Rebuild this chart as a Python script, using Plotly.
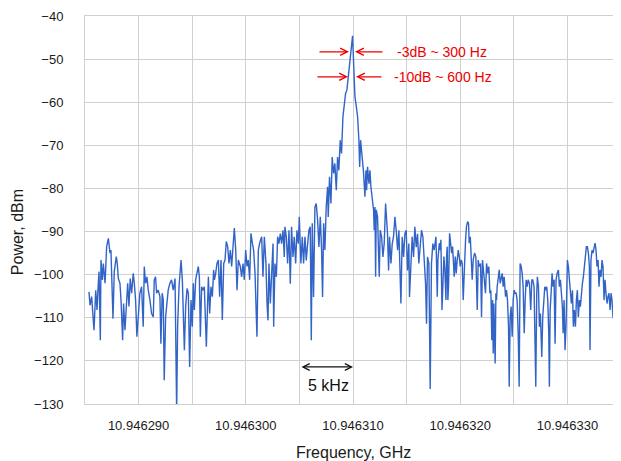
import plotly.graph_objects as go

# ---- data ----
# frequency axis origin (left edge of the plot), GHz
base_ghz = 10.946285

# offsets from base_ghz in kHz, and measured power in dBm, by section of the sweep
offset_khz_a = [0.37, 0.47, 0.62, 0.84, 1.00, 1.12, 1.24, 1.31, 1.43, 1.49,
                1.62, 1.71, 1.87, 2.02, 2.18, 2.33, 2.42, 2.49, 2.61, 2.73,
                2.92, 3.01, 3.11, 3.26, 3.36, 3.51, 3.60, 3.73, 3.85, 3.98,
                4.10, 4.22, 4.35, 4.50, 4.60, 4.72, 4.84, 4.97, 5.12, 5.28,
                5.43, 5.53, 5.65, 5.78, 5.90, 6.06, 6.21, 6.37, 6.46, 6.58,
                6.68, 6.83, 6.99, 7.08, 7.20, 7.30, 7.39, 7.52, 7.64, 7.76,
                7.92, 8.07, 8.23]
power_dbm_a = [-104.0, -107.1, -105.1, -112.9, -103.6, -108.2, -102.0, -99.3, -115.2, -96.6,
               -101.2, -97.4, -102.0, -93.5, -91.6, -95.0, -94.3, -101.2, -110.2, -99.3,
               -95.8, -97.4, -100.9, -102.0, -105.9, -115.2, -106.7, -112.9, -105.9, -102.0,
               -107.4, -100.9, -104.3, -99.7, -102.0, -105.9, -114.4, -108.2, -104.3, -102.8,
               -112.1, -98.1, -102.0, -100.5, -103.6, -105.9, -109.0, -109.8, -101.2, -100.5,
               -104.3, -103.6, -105.1, -116.0, -104.3, -105.9, -124.5, -109.8, -105.9, -103.6,
               -102.0, -101.2, -103.6]

offset_khz_b = [8.40, 8.55, 8.64, 8.77, 8.96, 9.08, 9.27, 9.39, 9.52, 9.64,
                9.76, 9.89, 10.01, 10.10, 10.20, 10.32, 10.45, 10.57, 10.67, 10.76,
                10.88, 11.01, 11.13, 11.32, 11.51, 11.63, 11.75, 11.88, 12.00, 12.07,
                12.19, 12.31, 12.44, 12.56, 12.69, 12.81, 12.94, 13.06, 13.18, 13.31,
                13.43, 13.56, 13.68, 13.81, 13.93, 14.06, 14.18, 14.30, 14.49, 14.61,
                14.74, 14.86, 14.99, 15.11, 15.23, 15.36, 15.48, 15.61, 15.73, 15.86,
                16.04, 16.17, 16.29, 16.48, 16.60, 16.73]
power_dbm_b = [-100.9, -132.0, -112.1, -102.8, -96.6, -101.2, -117.5, -107.4, -103.2, -104.3,
               -121.4, -105.9, -112.1, -102.0, -108.2, -101.2, -99.7, -98.1, -100.5, -114.4,
               -102.8, -103.6, -102.8, -116.7, -100.5, -109.0, -102.8, -105.1, -98.9, -101.2,
               -99.7, -97.4, -96.6, -105.1, -96.6, -110.5, -97.4, -96.6, -92.3, -93.5,
               -97.4, -94.3, -98.1, -91.9, -89.2, -94.3, -103.6, -96.6, -98.1, -100.5,
               -97.4, -101.2, -94.3, -98.1, -96.6, -101.2, -90.4, -92.7, -94.3, -99.7,
               -114.4, -94.3, -92.7, -91.2, -100.5, -91.2]

offset_khz_c = [16.88, 16.98, 17.07, 17.16, 17.29, 17.41, 17.54, 17.60, 17.72, 17.85,
                17.97, 18.09, 18.22, 18.34, 18.47, 18.59, 18.65, 18.78, 18.90, 19.03,
                19.15, 19.27, 19.40, 19.52, 19.65, 19.77, 19.90, 19.99, 20.08, 20.14,
                20.27, 20.39, 20.52, 20.64, 20.77, 20.89, 21.01, 21.11, 21.20, 21.32,
                21.45, 21.57, 21.70, 21.82, 21.95, 22.07, 22.16, 22.26, 22.38, 22.50,
                22.63, 22.69, 22.81, 22.94, 23.06, 23.19, 23.31, 23.44, 23.56, 23.68,
                23.81, 23.93, 24.06, 24.18, 24.31, 24.43, 24.55, 24.68, 24.77, 24.86,
                24.96]
power_dbm_c = [-97.4, -106.7, -110.6, -97.4, -106.7, -99.8, -92.8, -112.1, -97.4, -100.5,
               -91.2, -92.8, -90.5, -92.8, -89.7, -95.9, -88.9, -91.2, -97.4, -89.7,
               -102.1, -88.9, -95.9, -91.2, -97.4, -89.7, -92.8, -86.6, -92.8, -97.4,
               -91.2, -97.4, -91.2, -96.7, -92.8, -89.7, -88.9, -115.2, -88.1, -105.2,
               -84.3, -83.5, -87.4, -93.6, -86.6, -94.3, -105.2, -88.1, -94.3, -84.3,
               -79.6, -86.6, -77.3, -83.5, -72.7, -76.5, -74.2, -80.4, -72.7, -75.8,
               -68.8, -71.9, -63.4, -61.0, -57.9, -57.2, -54.1, -51.0, -47.9, -45.6,
               -44.6]

offset_khz_d = [25.06, 25.18, 25.31, 25.43, 25.55, 25.62, 25.71, 25.80, 25.86, 25.99,
                26.11, 26.21, 26.27, 26.36, 26.49, 26.58, 26.67, 26.80, 26.92, 26.98,
                27.05, 27.11, 27.17, 27.29, 27.36, 27.45, 27.54, 27.67, 27.79, 27.91,
                28.04, 28.13, 28.22, 28.32, 28.41, 28.54, 28.66, 28.78, 28.91, 29.03,
                29.16, 29.28, 29.37, 29.47, 29.59, 29.72, 29.84, 29.96, 30.09, 30.21,
                30.27, 30.40, 30.52, 30.65, 30.77, 30.90, 31.02, 31.14, 31.27, 31.39,
                31.52, 31.64, 31.77, 31.86, 31.95, 32.08, 32.20, 32.32, 32.45, 32.57]
power_dbm_d = [-51.0, -58.7, -61.0, -63.4, -68.8, -75.0, -68.8, -71.1, -74.2, -76.5,
               -81.9, -75.8, -80.4, -75.0, -78.9, -75.8, -79.6, -83.5, -85.0, -89.7,
               -84.3, -100.5, -85.0, -86.6, -94.3, -100.5, -89.7, -91.2, -95.9, -92.8,
               -83.5, -86.6, -90.5, -99.0, -91.2, -97.4, -92.8, -91.2, -86.6, -89.7,
               -94.3, -89.7, -97.4, -106.7, -91.2, -95.9, -90.5, -89.7, -99.0, -92.8,
               -105.2, -97.4, -91.2, -95.9, -88.9, -93.6, -90.5, -97.4, -92.8, -89.7,
               -91.2, -95.9, -102.1, -111.4, -95.9, -97.4, -126.5, -97.4, -92.8, -94.3]

offset_khz_e = [32.74, 32.86, 32.92, 33.05, 33.14, 33.20, 33.30, 33.39, 33.48, 33.57,
                33.67, 33.73, 33.79, 33.85, 33.92, 34.01, 34.10, 34.20, 34.29, 34.35,
                34.44, 34.54, 34.63, 34.72, 34.82, 34.91, 35.00, 35.10, 35.19, 35.28,
                35.38, 35.50, 35.59, 35.69, 35.78, 35.84, 35.94, 36.03, 36.12, 36.21,
                36.34, 36.46, 36.59, 36.68, 36.77, 36.90, 36.99, 37.08, 37.18, 37.27,
                37.36, 37.46, 37.58, 37.67, 37.77, 37.86, 37.95, 38.02, 38.08, 38.14,
                38.20, 38.26, 38.33, 38.39, 38.45, 38.54, 38.64, 38.73, 38.82, 38.92,
                39.01, 39.10, 39.23, 39.32, 39.41, 39.51, 39.57, 39.66, 39.75, 39.85,
                39.94, 40.03, 40.13, 40.22, 40.31, 40.41, 40.50, 40.59, 40.69, 40.78,
                40.87, 40.97, 41.06, 41.15, 41.25]
power_dbm_e = [-91.2, -105.1, -96.6, -92.7, -94.3, -91.9, -108.2, -102.0, -95.8, -98.9,
               -105.9, -95.8, -93.5, -105.9, -102.0, -90.4, -92.7, -95.0, -93.5, -98.1,
               -100.5, -95.8, -99.7, -96.6, -94.3, -95.8, -98.1, -96.6, -97.4, -105.9,
               -98.1, -91.9, -88.8, -87.7, -88.1, -92.7, -91.2, -96.6, -101.2, -96.6,
               -95.0, -95.8, -108.2, -96.6, -98.1, -97.4, -109.8, -96.6, -98.9, -102.0,
               -104.3, -97.4, -99.7, -98.1, -104.3, -103.6, -115.2, -105.9, -118.3, -106.7,
               -119.1, -120.6, -104.3, -105.9, -102.8, -100.5, -98.9, -102.0, -101.2, -99.7,
               -102.8, -100.5, -105.1, -103.6, -105.9, -112.1, -126.0, -109.8, -107.4, -114.4,
               -105.9, -103.6, -104.3, -104.3, -105.9, -113.6, -126.0, -97.4, -98.1, -99.7,
               -102.8, -113.6, -105.9, -101.2, -102.8]

offset_khz_f = [41.34, 41.46, 41.58, 41.68, 41.77, 41.89, 41.99, 42.05, 42.14, 42.20,
                42.30, 42.39, 42.48, 42.55, 42.61, 42.70, 42.80, 42.89, 42.98, 43.07,
                43.17, 43.26, 43.32, 43.39, 43.48, 43.57, 43.66, 43.76, 43.85, 43.94,
                44.04, 44.16, 44.25, 44.35, 44.44, 44.53, 44.60, 44.69, 44.78, 44.88,
                45.00, 45.09, 45.19, 45.28, 45.37, 45.47, 45.56, 45.65, 45.75, 45.84,
                45.93, 46.02, 46.12, 46.21, 46.30, 46.40, 46.49, 46.58, 46.68, 46.77,
                46.86, 46.96, 47.05, 47.11, 47.20, 47.30, 47.39, 47.48, 47.58, 47.67,
                47.76, 47.86, 47.95, 48.04, 48.14, 48.23, 48.32, 48.42, 48.51, 48.60,
                48.70, 48.79, 48.88, 48.98, 49.07, 49.16, 49.25, 49.35, 49.44, 49.53,
                49.63, 49.72, 49.81, 50.00]
power_dbm_f = [-101.2, -102.0, -108.2, -101.2, -101.2, -102.8, -114.4, -126.0, -104.3, -100.5,
               -102.8, -112.1, -109.0, -115.2, -119.1, -109.8, -106.7, -102.8, -103.6, -102.8,
               -105.9, -113.6, -126.0, -108.2, -104.3, -99.7, -102.8, -101.2, -116.0, -101.2,
               -99.7, -98.9, -102.8, -101.2, -104.3, -107.4, -113.6, -105.9, -117.5, -111.3,
               -96.6, -98.1, -101.2, -105.1, -106.7, -103.6, -112.1, -108.2, -112.1, -105.9,
               -103.6, -109.8, -105.9, -107.4, -104.3, -102.0, -100.5, -98.1, -94.3, -93.5,
               -93.5, -95.0, -98.1, -117.5, -96.6, -94.3, -95.0, -93.5, -92.7, -94.3,
               -98.1, -96.6, -102.8, -98.9, -100.5, -96.6, -98.1, -105.9, -101.2, -104.3,
               -106.7, -105.1, -104.3, -108.2, -104.3, -105.9, -109.8, -110.5, -117.5, -106.7,
               -103.6, -106.7, -110.5, -108.0]

x_tick_vals = [10.946290, 10.946300, 10.946310, 10.946320, 10.946330]
x_tick_text = ["10.946290", "10.946300", "10.946310", "10.946320", "10.946330"]
x_minor_vals = [10.946285, 10.946295, 10.946305, 10.946315, 10.946325, 10.946335]
y_tick_vals = [-40, -50, -60, -70, -80, -90, -100, -110, -120, -130]

offset_khz = (offset_khz_a + offset_khz_b + offset_khz_c +
              offset_khz_d + offset_khz_e + offset_khz_f)
power_dbm = (power_dbm_a + power_dbm_b + power_dbm_c +
             power_dbm_d + power_dbm_e + power_dbm_f)
assert len(offset_khz) == len(power_dbm)
freq_ghz = [base_ghz + k * 1e-6 for k in offset_khz]

FONT = "Arial, Liberation Sans, sans-serif"
GRID = "#d0d0d0"
RED = "#f00000"
TXT = "#1a1a1a"

fig = go.Figure()
fig.add_trace(go.Scatter(
    x=freq_ghz, y=power_dbm, mode="lines",
    line=dict(color="#3264c8", width=1.4),
    showlegend=False, hoverinfo="skip",
))

def fx(px):
    # window pixel -> GHz helper for annotation placement
    return base_ghz + (px - 85) / 10.72 * 1e-6

annotations = [
    # -3 dB arrows
    dict(x=fx(349), y=-48.3, ax=-31, ay=0, text="", showarrow=True,
         arrowhead=5, arrowsize=1.1, arrowwidth=1.3, arrowcolor=RED),
    dict(x=fx(355), y=-48.3, ax=29, ay=0, text="", showarrow=True,
         arrowhead=5, arrowsize=1.1, arrowwidth=1.3, arrowcolor=RED),
    dict(x=fx(395), y=-48.3, text="-3dB ~ 300 Hz", showarrow=False,
         xanchor="left", yanchor="middle", font=dict(color=RED, size=14, family=FONT)),
    # -10 dB arrows
    dict(x=fx(348), y=-54.1, ax=-32, ay=0, text="", showarrow=True,
         arrowhead=5, arrowsize=1.1, arrowwidth=1.3, arrowcolor=RED),
    dict(x=fx(356), y=-54.1, ax=27, ay=0, text="", showarrow=True,
         arrowhead=5, arrowsize=1.1, arrowwidth=1.3, arrowcolor=RED),
    dict(x=fx(392), y=-54.1, text="-10dB ~ 600 Hz", showarrow=False,
         xanchor="left", yanchor="middle", font=dict(color=RED, size=14, family=FONT)),
    # 5 kHz double arrow
    dict(x=fx(353), y=-121.4, ax=-53, ay=0, text="", showarrow=True,
         arrowhead=5, startarrowhead=5, arrowside="end+start", arrowsize=1.1,
         startarrowsize=1.1, arrowwidth=1.2, arrowcolor="#111111"),
    dict(x=fx(328), y=-125.7, text="5 kHz", showarrow=False,
         xanchor="center", yanchor="middle", font=dict(color="#111111", size=16, family=FONT)),
    # axis titles
    dict(xref="paper", yref="paper", x=(17 - 85) / 536, y=(403.7 - 232) / 387.7,
         text="Power, dBm", textangle=-90, showarrow=False,
         xanchor="center", yanchor="middle", font=dict(color=TXT, size=16, family=FONT)),
    dict(xref="paper", yref="paper", x=(353 - 85) / 536, y=(403.7 - 452) / 387.7,
         text="Frequency, GHz", showarrow=False,
         xanchor="center", yanchor="middle", font=dict(color=TXT, size=16, family=FONT)),
]

# The page body adds an 8 px margin, so the figure is drawn 8 px smaller
# and its margins shifted, to land the plot area where the reference has it.
fig.update_layout(
    width=613, height=453,
    margin=dict(l=77, r=0, t=8, b=57),
    paper_bgcolor="white", plot_bgcolor="white",
    font=dict(family=FONT, size=13, color=TXT),
    annotations=annotations,
)
fig.update_xaxes(
    range=[10.946285, 10.946335],
    tickmode="array", tickvals=x_tick_vals, ticktext=x_tick_text,
    showgrid=True, gridcolor=GRID, gridwidth=1,
    minor=dict(tickmode="array", tickvals=x_minor_vals, showgrid=True,
               gridcolor=GRID, gridwidth=1),
    showline=True, linecolor=GRID, linewidth=1, mirror=True,
    zeroline=False, ticks="", ticklabelstandoff=9,
    tickfont=dict(size=13, family=FONT, color=TXT),
)
fig.update_yaxes(
    range=[-130, -40],
    tickmode="array", tickvals=y_tick_vals,
    showgrid=True, gridcolor=GRID, gridwidth=1,
    showline=True, linecolor=GRID, linewidth=1, mirror=True,
    zeroline=False, ticks="", ticklabelstandoff=18,
    tickfont=dict(size=13, family=FONT, color=TXT),
)

fig.write_html("out.html")
